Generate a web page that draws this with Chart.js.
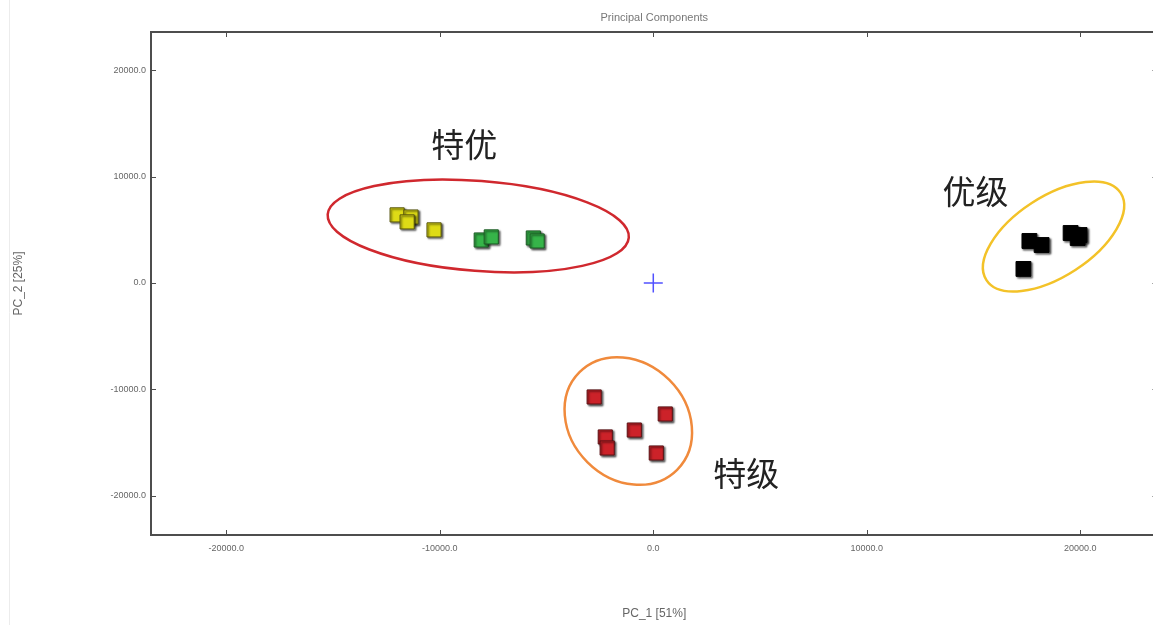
<!DOCTYPE html>
<html>
<head>
<meta charset="utf-8">
<title>Principal Components</title>
<script src="https://cdn.jsdelivr.net/npm/chart.js@4.4.1/dist/chart.umd.min.js"></script>
<style>
  html, body { margin: 0; padding: 0; background: #fff; overflow: hidden; }
  #wrap { width: 1169px; height: 625px; }
</style>
</head>
<body>
<div id="wrap"><canvas id="myChart" width="1169" height="625"></canvas></div>
<script>
// PCA scores, PC_1 / PC_2 per sample group
const yellowPC1 = [-12000, -11350, -11530, -10270];
const yellowPC2 = [6400, 6200, 5740, 4990];
const greenPC1 = [-8060, -7590, -5620, -5440];
const greenPC2 = [4040, 4330, 4230, 3950];
const redPC1 = [-2770, 560, -890, -2250, -2160, 140];
const redPC2 = [-10720, -12320, -13830, -14480, -15520, -15990];
const blackPC1 = [17620, 18190, 19550, 19970, 19880, 17340];
const blackPC2 = [3950, 3570, 4700, 4510, 4230, 1320];
const originPC1 = [0];
const originPC2 = [0];

const tickValues = [-20000, -10000, 0, 10000, 20000];
const chartTitle = 'Principal Components';
const xTitle = 'PC_1 [51%]';
const yTitle = 'PC_2 [25%]';
const groupLabels = ['特优', '特级', '优级'];

const sans = '"Liberation Sans", Arial, sans-serif';

function toPoints(xs, ys)
{
    return xs.map((v, i) => ({ x: v, y: ys[i] }));
}

// hand-drawn style group rings and labels, anchored in data units
const rings = [
    { x: -8200, y: 5360, rx: 151, ry: 45, rot: 4.4, color: '#d0282e' },
    { x: -1170, y: -12980, rx: 69, ry: 58, rot: 45, color: '#f08a3c' },
    { x: 18750, y: 4370, rx: 80, ry: 40, rot: -33, color: '#f3c228' },
];
const labelAnchors = [
    { x: -8860, y: 13070 },
    { x: 4360, y: -17870 },
    { x: 15090, y: 8650 },
];

const groupMarks = {
    id: 'groupMarks',
    afterDatasetsDraw(chart) {
        const { ctx, scales: { x, y } } = chart;
        ctx.save();
        ctx.lineWidth = 2.5;
        rings.forEach(r => {
            ctx.strokeStyle = r.color;
            ctx.beginPath();
            ctx.ellipse(x.getPixelForValue(r.x), y.getPixelForValue(r.y), r.rx, r.ry, r.rot * Math.PI / 180, 0, Math.PI * 2);
            ctx.stroke();
        });
        ctx.fillStyle = '#222';
        ctx.font = '33px "Noto Sans CJK SC", sans-serif';
        ctx.textAlign = 'center';
        ctx.textBaseline = 'middle';
        groupLabels.forEach((t, i) => {
            ctx.fillText(t, x.getPixelForValue(labelAnchors[i].x), y.getPixelForValue(labelAnchors[i].y));
        });
        ctx.restore();
    }
};

// box frame with inward ticks on all four sides, plus the title
const frame = {
    id: 'frame',
    afterDraw(chart) {
        const { ctx, chartArea: a, scales: { x, y } } = chart;
        ctx.save();
        ctx.strokeStyle = '#ececec';
        ctx.lineWidth = 1;
        ctx.beginPath();
        ctx.moveTo(9.5, 0);
        ctx.lineTo(9.5, chart.height);
        ctx.stroke();

        ctx.strokeStyle = '#4d4d4d';
        ctx.lineWidth = 2;
        ctx.strokeRect(a.left, a.top, a.right - a.left, a.bottom - a.top);

        ctx.lineWidth = 1;
        ctx.beginPath();
        x.ticks.forEach(t => {
            const px = Math.round(x.getPixelForValue(t.value)) + 0.5;
            ctx.moveTo(px, a.bottom); ctx.lineTo(px, a.bottom - 5);
            ctx.moveTo(px, a.top); ctx.lineTo(px, a.top + 5);
        });
        y.ticks.forEach(t => {
            const py = Math.round(y.getPixelForValue(t.value)) + 0.5;
            ctx.moveTo(a.left, py); ctx.lineTo(a.left + 5, py);
            ctx.moveTo(a.right, py); ctx.lineTo(a.right - 5, py);
        });
        ctx.stroke();

        ctx.fillStyle = '#777';
        ctx.font = '11px ' + sans;
        ctx.textAlign = 'center';
        ctx.textBaseline = 'middle';
        ctx.fillText(chartTitle, (a.left + a.right) / 2, 18);
        ctx.restore();
    }
};

// soft dark edge under the square markers
const squareShadow = {
    id: 'squareShadow',
    beforeDatasetDraw(chart, args) {
        const ctx = chart.ctx;
        ctx.save();
        if (args.index < 4) {
            ctx.shadowColor = 'rgba(0,0,0,0.6)';
            ctx.shadowBlur = 2;
            ctx.shadowOffsetX = 1.5;
            ctx.shadowOffsetY = 1.5;
        }
    },
    afterDatasetDraw(chart) {
        chart.ctx.restore();
    }
};

function squares(xs, ys, fill, edge, r)
{
    return {
        data: toPoints(xs, ys),
        pointStyle: 'rect',
        pointRadius: r,
        backgroundColor: fill,
        borderColor: edge,
        borderWidth: 1,
        showLine: false,
    };
}

const config = {
    type: 'scatter',
    data: {
        datasets: [
            squares(yellowPC1, yellowPC2, '#dedb16', '#55530c', 10),
            squares(greenPC1, greenPC2, '#36b449', '#1d5a25', 10),
            squares(redPC1, redPC2, '#cc2229', '#5a1114', 10),
            squares(blackPC1, blackPC2, '#000', '#000', 10.5),
            {
                data: toPoints(originPC1, originPC2),
                pointStyle: 'cross',
                pointRadius: 9.5,
                borderColor: 'rgba(50,50,255,0.85)',
                borderWidth: 1.5,
                showLine: false,
            },
        ]
    },
    options: {
        responsive: false,
        animation: false,
        events: [],
        layout: { padding: { top: 32, right: 3, left: 0, bottom: 0 } },
        plugins: {
            legend: { display: false },
            title: { display: false },
            tooltip: { enabled: false },
        },
        scales: {
            x: {
                type: 'linear',
                min: -23530,
                max: 23620,
                afterFit: s => { s.height = 90; s.paddingLeft = 0; s.paddingRight = 0; },
                grid: { display: false, drawTicks: false },
                border: { display: false },
                afterBuildTicks: s => { s.ticks = tickValues.map(v => ({ value: v })); },
                ticks: {
                    padding: 8,
                    color: '#666',
                    font: { size: 9, family: sans },
                    maxRotation: 0,
                    autoSkip: false,
                    callback: v => Number(v).toFixed(1),
                },
                title: {
                    display: true,
                    text: xTitle,
                    color: '#666',
                    font: { size: 12, family: sans },
                    padding: { top: 0, bottom: 4 },
                },
            },
            y: {
                type: 'linear',
                min: -23700,
                max: 23600,
                afterFit: s => { s.width = 151; s.paddingTop = 0; s.paddingBottom = 0; },
                grid: { display: false, drawTicks: false },
                border: { display: false },
                afterBuildTicks: s => { s.ticks = tickValues.map(v => ({ value: v })); },
                ticks: {
                    padding: 5,
                    color: '#666',
                    font: { size: 9, family: sans },
                    autoSkip: false,
                    callback: v => Number(v).toFixed(1),
                },
                title: {
                    display: true,
                    text: yTitle,
                    color: '#666',
                    font: { size: 12, family: sans },
                    padding: { top: 11, bottom: 0 },
                },
            },
        },
    },
    plugins: [squareShadow, groupMarks, frame],
};

const myChart = new Chart(document.getElementById('myChart'), config);
</script>
</body>
</html>
